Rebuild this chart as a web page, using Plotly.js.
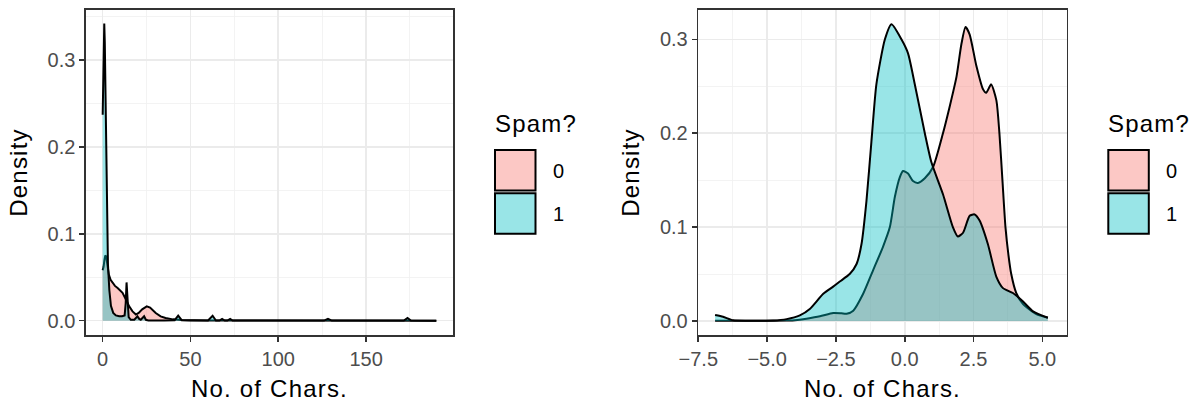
<!DOCTYPE html>
<html>
<head>
<meta charset="utf-8">
<script src="https://cdn.plot.ly/plotly-3.0.1.min.js"></script>
<style>
html,body{margin:0;padding:0;background:#fff;}
#chart{width:1198px;height:402px;}
#chart text.xtitle, #chart text.ytitle, #chart text.x2title, #chart text.y2title { letter-spacing: 1.2px; }
#chart text.legtitle { letter-spacing: 1.2px; }
</style>
</head>
<body>
<div id="chart"></div>
<script>
// ---- Data ----
// Left panel: raw number of characters
const rawX0 = [0, 0.5, 1.0, 1.5, 2.0, 2.7, 3.5, 4.5, 5.7, 7.0, 8.5, 10.0, 11.3, 12.8, 14.0, 15.1, 17.0, 18.9, 20.5, 22.5, 25.1, 27.0, 30.2, 33.0, 35.8, 40, 45, 50, 60, 80, 100, 130, 160, 190];
const rawY0 = [0.058, 0.062, 0.070, 0.075, 0.074, 0.064, 0.053, 0.047, 0.043, 0.040, 0.0375, 0.035, 0.032, 0.026, 0.021, 0.0165, 0.0107, 0.007, 0.009, 0.013, 0.0165, 0.015, 0.0088, 0.005, 0.003, 0.0015, 0.0008, 0.0005, 0.0003, 0.0002, 0.0001, 0.0001, 0.00005, 0];
const rawX1 = [0, 0.3, 0.6, 0.9, 1.2, 1.6, 2.0, 2.5, 3.0, 3.8, 4.7, 6.0, 7.5, 9.4, 11.0, 12.5, 13.1, 13.6, 14.1, 14.8, 16.0, 18.0, 19.8, 20.8, 21.7, 22.7, 23.6, 24.6, 26, 35, 41, 43, 45, 50, 60, 62.6, 64.5, 66.5, 68, 69.5, 71, 72.6, 74, 100, 126, 128.3, 130.5, 171.5, 173.6, 175.5, 190];
const rawY1 = [0.237, 0.28, 0.325, 0.342, 0.32, 0.25, 0.17, 0.10, 0.065, 0.035, 0.017, 0.009, 0.006, 0.005, 0.005, 0.006, 0.02, 0.044, 0.02, 0.004, 0.001, 0.001, 0.005, 0.002, 0.001, 0.003, 0.005, 0.001, 0.0003, 0.0003, 0.0005, 0.0057, 0.0005, 0.0003, 0.0002, 0.0057, 0.0002, 0.0001, 0.002, 0.0001, 0.0001, 0.002, 0.0001, 0.0001, 0.0001, 0.002, 0.0001, 0.0001, 0.003, 0.0001, 0];

// Right panel: log-scaled number of characters
const logX0 = [-6.89, -6.0, -5.0, -4.3, -3.9, -3.57, -3.08, -2.6, -2.3, -2.11, -1.87, -1.51, -1.15, -0.79, -0.54, -0.36, -0.18, -0.06, 0.12, 0.3, 0.48, 0.73, 1.03, 1.39, 1.63, 1.88, 2.06, 2.21, 2.36, 2.6, 2.84, 2.96, 3.14, 3.33, 3.44, 3.55, 3.66, 3.77, 3.87, 4.05, 4.3, 4.78, 5.2];
const logY0 = [0.0003, 0.0003, 0.0003, 0.0005, 0.0012, 0.0025, 0.005, 0.0085, 0.0082, 0.0078, 0.011, 0.029, 0.054, 0.079, 0.100, 0.132, 0.153, 0.1597, 0.157, 0.149, 0.147, 0.152, 0.164, 0.2, 0.228, 0.260, 0.295, 0.313, 0.305, 0.272, 0.247, 0.243, 0.252, 0.235, 0.2, 0.15, 0.1, 0.07, 0.05, 0.03, 0.018, 0.0074, 0.0035];
const logX1 = [-6.89, -6.6, -6.23, -5.62, -4.78, -4.29, -3.81, -3.45, -2.96, -2.6, -2.36, -2.0, -1.75, -1.57, -1.39, -1.21, -1.03, -0.72, -0.48, -0.12, 0.12, 0.36, 0.73, 0.97, 1.39, 1.75, 1.93, 2.12, 2.36, 2.54, 2.72, 3.02, 3.33, 3.57, 3.93, 4.29, 4.66, 5.2];
const logY1 = [0.0064, 0.0045, 0.0008, 0.0004, 0.0005, 0.002, 0.006, 0.0128, 0.029, 0.0366, 0.042, 0.050, 0.0607, 0.082, 0.128, 0.191, 0.252, 0.3, 0.316, 0.3, 0.285, 0.253, 0.2, 0.169, 0.135, 0.1, 0.090, 0.094, 0.112, 0.1135, 0.107, 0.082, 0.047, 0.035, 0.0298, 0.021, 0.0103, 0.0035];

const groups = ["0", "1"];
const legendTitle = "Spam?";
const xTitle = "No. of Chars.";
const yTitle = "Density";

// ---- Styles ----
const fillCols = ["rgba(248,118,109,0.4)", "rgba(0,191,196,0.4)"];
const W = 1198, H = 402;
const px = v => v / W, py = v => 1 - v / H;

function dens(x, y, i, xa, ya, shape) {
  return {x: x, y: y, type: "scatter", mode: "lines", name: groups[i],
    xaxis: xa, yaxis: ya, fill: "tozeroy", fillcolor: fillCols[i],
    line: {color: "#000", width: 2, shape: shape, smoothing: 0.6},
    showlegend: false, hoverinfo: "skip"};
}

const traces = [
  dens(rawX0, rawY0, 0, "x", "y", "linear"),
  dens(rawX1, rawY1, 1, "x", "y", "linear"),
  dens(logX0, logY0, 0, "x2", "y2", "spline"),
  dens(logX1, logY1, 1, "x2", "y2", "spline")
];

const FAM = "Liberation Sans, Arial, sans-serif";
const tickFont = {family: FAM, size: 20, color: "#4D4D4D"};
const titleFont = {family: FAM, size: 24, color: "#000"};
function axisBase() {
  return {showline: true, mirror: true, linecolor: "#333333", linewidth: 1.6,
    ticks: "outside", ticklen: 5, tickwidth: 1.6, tickcolor: "#333333",
    showgrid: true, gridcolor: "#EBEBEB", gridwidth: 1.6, zeroline: false,
    tickfont: tickFont, automargin: false};
}
const minorGrid = vals => ({tickvals: vals, showgrid: true, gridcolor: "#F0F0F0", gridwidth: 0.8, ticks: ""});

const yDom = [py(335), py(10)];
const layout = {
  width: W, height: H, margin: {l: 0, r: 0, t: 0, b: 0},
  paper_bgcolor: "#fff", plot_bgcolor: "#fff",
  xaxis: Object.assign(axisBase(), {domain: [px(86), px(453)], anchor: "y",
    range: [-9.5, 199.5], tickvals: [0, 50, 100, 150],
    minor: minorGrid([25, 75, 125, 175]),
    title: {text: xTitle, font: titleFont, standoff: 11}}),
  yaxis: Object.assign(axisBase(), {domain: yDom, anchor: "x",
    range: [-0.0165, 0.3575], tickvals: [0, 0.1, 0.2, 0.3], tickformat: ".1f",
    minor: minorGrid([0.05, 0.15, 0.25, 0.35]),
    title: {text: yTitle, font: titleFont, standoff: 13}}),
  xaxis2: Object.assign(axisBase(), {domain: [px(698.3), px(1066.7)], anchor: "y2",
    range: [-7.5, 5.885], tickvals: [-7.5, -5, -2.5, 0, 2.5, 5], tickformat: ".1f",
    minor: minorGrid([-6.25, -3.75, -1.25, 1.25, 3.75]),
    title: {text: xTitle, font: titleFont, standoff: 11}}),
  yaxis2: Object.assign(axisBase(), {domain: yDom, anchor: "x2",
    range: [-0.0149, 0.3312], tickvals: [0, 0.1, 0.2, 0.3], tickformat: ".1f",
    minor: minorGrid([0.05, 0.15, 0.25]),
    title: {text: yTitle, font: titleFont, standoff: 13}}),
  shapes: [],
  annotations: []
};

// Legends (one per panel, as in the reference)
[495, 1108.3].forEach(function (lx) {
  layout.annotations.push({xref: "paper", yref: "paper", x: px(lx + 1), y: py(124),
    xanchor: "left", yanchor: "middle", showarrow: false, text: legendTitle, font: titleFont});
  groups.forEach(function (g, i) {
    const top = 150 + i * 43.3;
    layout.shapes.push({type: "rect", xref: "paper", yref: "paper",
      x0: px(lx), x1: px(lx + 40.5), y0: py(top), y1: py(top + 40.5),
      fillcolor: fillCols[i], line: {color: "#000", width: 2}});
    layout.annotations.push({xref: "paper", yref: "paper", x: px(lx + 56), y: py(top + 20.5),
      xanchor: "left", yanchor: "middle", showarrow: false, text: g,
      font: {family: FAM, size: 20, color: "#000"}});
  });
});

Plotly.newPlot("chart", traces, layout, {staticPlot: true, displayModeBar: false}).then(function (gd) {
  gd.querySelectorAll("text.annotation-text").forEach(function (t) {
    if (t.textContent === legendTitle) t.classList.add("legtitle");
  });
});
</script>
</body>
</html>
